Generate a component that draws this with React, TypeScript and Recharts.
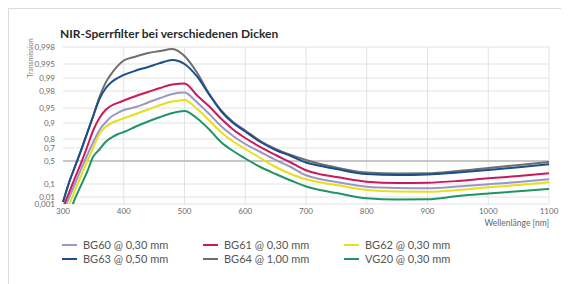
import React from 'react';
import { LineChart, Line, XAxis, YAxis, CartesianGrid, ReferenceLine } from 'recharts';

const WAVELENGTHS = [300, 310, 320, 330, 340, 350, 360, 370, 380, 390, 400, 420, 440, 460, 480, 500, 520, 540, 560, 580, 600, 625, 650, 675, 700, 725, 750, 800, 850, 900, 950, 1000, 1050, 1100];

const BG60 = [0.0001, 0.0077, 0.1062, 0.322, 0.5965, 0.7728, 0.8632, 0.9022, 0.9256, 0.9366, 0.945, 0.9526, 0.9627, 0.9707, 0.9765, 0.9783, 0.9637, 0.9352, 0.8854, 0.8232, 0.7478, 0.6425, 0.516, 0.3605, 0.2033, 0.1483, 0.1187, 0.0633, 0.0504, 0.0479, 0.0655, 0.0952, 0.1187, 0.1483];
const BG61 = [0.0003, 0.0226, 0.1714, 0.4595, 0.7185, 0.8632, 0.9203, 0.945, 0.9562, 0.9618, 0.9665, 0.9737, 0.9789, 0.983, 0.9859, 0.9866, 0.9751, 0.955, 0.9184, 0.8663, 0.808, 0.7123, 0.5965, 0.4643, 0.2915, 0.2159, 0.178, 0.1216, 0.109, 0.1118, 0.129, 0.1608, 0.1926, 0.236];
const BG62 = [0.0001, 0.00097, 0.0381, 0.2033, 0.5, 0.7062, 0.8376, 0.8802, 0.9, 0.9107, 0.9192, 0.9337, 0.9463, 0.9574, 0.9646, 0.9674, 0.9488, 0.9126, 0.8508, 0.7749, 0.6861, 0.5487, 0.3605, 0.2241, 0.1483, 0.1137, 0.0847, 0.0354, 0.0271, 0.0262, 0.0354, 0.0571, 0.0847, 0.1156];
const BG63 = [0.0019, 0.1137, 0.3806, 0.6747, 0.8462, 0.929, 0.9691, 0.9825, 0.9876, 0.99, 0.9914, 0.9931, 0.9942, 0.99526, 0.99597, 0.995, 0.99095, 0.9765, 0.9424, 0.9, 0.854, 0.7696, 0.6719, 0.5807, 0.4643, 0.3828, 0.3178, 0.2241, 0.208, 0.216, 0.25, 0.2974, 0.354, 0.4219];
const BG64 = [0.0019, 0.1137, 0.3806, 0.6747, 0.8462, 0.929, 0.9723, 0.987, 0.992, 0.9945, 0.99585, 0.99666, 0.99723, 0.99752, 0.99778, 0.99675, 0.99256, 0.9777, 0.945, 0.9044, 0.8602, 0.78, 0.6861, 0.5965, 0.516, 0.4219, 0.3496, 0.25, 0.2326, 0.236, 0.278, 0.339, 0.4056, 0.476];
const VG20 = [0.0001, 0.0001, 0.00698, 0.086, 0.2683, 0.576, 0.679, 0.7696, 0.8118, 0.836, 0.8508, 0.8828, 0.9066, 0.9238, 0.9366, 0.9424, 0.9203, 0.869, 0.7696, 0.657, 0.5406, 0.3605, 0.2241, 0.1342, 0.0655, 0.0336, 0.0207, 0.00653, 0.00441, 0.00471, 0.012, 0.0189, 0.0281, 0.0424];

const Y_TICK_VALUES = [0.001, 0.01, 0.1, 0.5, 0.7, 0.8, 0.9, 0.95, 0.98, 0.99, 0.995, 0.998];
// axis scale units assigned to each tick (non-linear transmission axis)
const Y_TICK_SCALE = [-43, -36, -23, 0, 13, 22, 38, 53, 70, 83, 97, 114];
const X_TICKS = [300, 400, 500, 600, 700, 800, 900, 1000, 1100];
const X_GRID = [400, 500, 600, 700, 800, 900, 1000, 1100];

const SERIES = [
  { key: 'BG60', name: 'BG60 @ 0,30 mm', color: '#9b97c3', values: BG60 },
  { key: 'BG61', name: 'BG61 @ 0,30 mm', color: '#c81a5c', values: BG61 },
  { key: 'BG62', name: 'BG62 @ 0,30 mm', color: '#e6df1c', values: BG62 },
  { key: 'BG63', name: 'BG63 @ 0,50 mm', color: '#1b4f8b', values: BG63 },
  { key: 'BG64', name: 'BG64 @ 1,00 mm', color: '#6e6e6e', values: BG64 },
  { key: 'VG20', name: 'VG20 @ 0,30 mm', color: '#1f9563', values: VG20 },
];
const DRAW_ORDER = ['VG20', 'BG62', 'BG60', 'BG61', 'BG64', 'BG63'];

const logit = (t: number) => Math.log(t / (1 - t));
const TICK_LOGITS = Y_TICK_VALUES.map(logit);

function toScale(t: number): number {
  const L = logit(t);
  const n = TICK_LOGITS.length;
  let i = 0;
  if (L <= TICK_LOGITS[0]) i = 0;
  else if (L >= TICK_LOGITS[n - 1]) i = n - 2;
  else {
    while (L > TICK_LOGITS[i + 1]) i++;
  }
  const f = (L - TICK_LOGITS[i]) / (TICK_LOGITS[i + 1] - TICK_LOGITS[i]);
  return Y_TICK_SCALE[i] + f * (Y_TICK_SCALE[i + 1] - Y_TICK_SCALE[i]);
}

const data = WAVELENGTHS.map((wl, i) => {
  const row: any = { wl };
  SERIES.forEach((s) => {
    row[s.key] = toScale(s.values[i]);
  });
  return row;
});

const yLabel = (v: number) => {
  let best = 0;
  Y_TICK_SCALE.forEach((p, i) => {
    if (Math.abs(p - v) < Math.abs(Y_TICK_SCALE[best] - v)) best = i;
  });
  return String(Y_TICK_VALUES[best]).replace('.', ',');
};

const FONT = 'Lato, "Open Sans", sans-serif';
const TICK_STYLE = { fontSize: 8, fill: '#6a6a6a', fontFamily: FONT };

export default function App() {
  const legendRows = [SERIES.slice(0, 3), SERIES.slice(3, 6)];
  return (
    <div style={{ position: 'relative', width: 561, height: 276, fontFamily: FONT }}>
      <div style={{ position: 'absolute', left: -1, top: -1, width: 600, height: 300, borderLeft: '2px solid #dcdcdc', borderTop: '2px solid #dcdcdc', boxSizing: 'border-box' }} />
      <div style={{ position: 'absolute', left: 52, top: 19, fontSize: 12, lineHeight: '14px', fontWeight: 700, color: '#2a2a2a', whiteSpace: 'nowrap' }}>
        NIR-Sperrfilter bei verschiedenen Dicken
      </div>
      <div style={{ position: 'absolute', left: 22 - 30, top: 50 - 5, width: 60, height: 10, fontSize: 7, lineHeight: '10px', color: '#808080', textAlign: 'center', transform: 'rotate(-90deg)', whiteSpace: 'nowrap' }}>
        Transmission
      </div>
      <div style={{ position: 'absolute', right: 561 - 541, top: 210, fontSize: 8.5, lineHeight: '10px', color: '#666', whiteSpace: 'nowrap' }}>
        Wellenlänge [nm]
      </div>
      <LineChart width={561} height={276} data={data} margin={{ top: 39, right: 20, bottom: 50, left: 15 }}>
        <CartesianGrid stroke="#e2e2e2" strokeWidth={1} verticalValues={X_GRID} />
        <XAxis
          dataKey="wl"
          type="number"
          domain={[300, 1100]}
          ticks={X_TICKS}
          interval={0}
          axisLine={false}
          tickLine={false}
          tickSize={3}
          tickMargin={1}
          height={30}
          tick={TICK_STYLE}
        />
        <YAxis
          type="number"
          domain={[-43, 114]}
          ticks={Y_TICK_SCALE}
          interval={0}
          allowDataOverflow
          axisLine={false}
          tickLine={false}
          tickSize={6}
          tickMargin={2}
          width={40}
          tick={TICK_STYLE}
          tickFormatter={yLabel}
        />
        <ReferenceLine y={0} stroke="#9d9d9d" strokeWidth={1} />
        {DRAW_ORDER.map((k) => {
          const s = SERIES.find((x) => x.key === k)!;
          return (
            <Line
              key={k}
              dataKey={k}
              name={s.name}
              type="monotone"
              stroke={s.color}
              strokeWidth={2}
              dot={false}
              activeDot={false}
              isAnimationActive={false}
            />
          );
        })}
      </LineChart>
      {legendRows.map((row, r) => (
        <div key={r} style={{ position: 'absolute', left: 54, top: 230 + r * 14, height: 14, display: 'flex' }}>
          {row.map((s) => (
            <div key={s.key} style={{ width: 141, display: 'flex', alignItems: 'center', height: 14 }}>
              <span style={{ display: 'inline-block', width: 15, height: 2.5, background: s.color, marginRight: 6 }} />
              <span style={{ fontSize: 11, color: '#555', whiteSpace: 'nowrap', lineHeight: '14px' }}>{s.name}</span>
            </div>
          ))}
        </div>
      ))}
    </div>
  );
}
